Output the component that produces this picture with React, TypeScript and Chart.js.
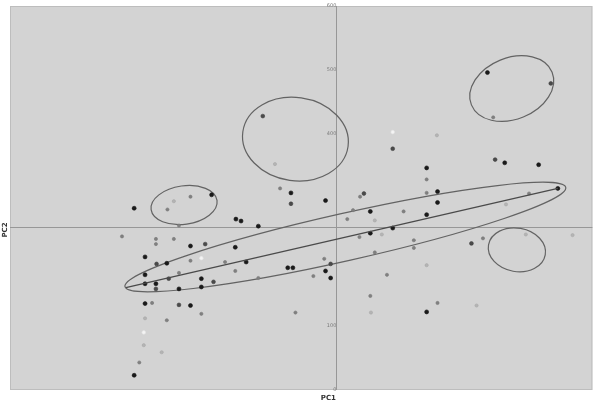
import React, { useEffect, useRef } from "react";
import { Chart, registerables } from "chart.js";

Chart.register(...registerables);

// ---- data (x in 0..910, y in 0..600) ----
const xTitle = "PC1";
const yTitle = "PC2";
const yTickValues = [0, 100, 400, 500, 600];
const xRef = 510;
const yRef = 254;

const blackX = [315, 439, 194, 361, 353, 388, 282, 352, 211, 245, 369, 434, 442, 211, 211, 228, 264, 299, 299, 211, 282, 194, 746, 651, 773, 826, 493, 668, 668, 856, 563, 651, 598, 493, 501, 651, 563];
const blackY = [305, 308, 284, 264, 267, 256, 225, 223, 208, 198, 200, 191, 191, 180, 166, 166, 158, 174, 161, 135, 132, 23, 496, 347, 355, 352, 296, 310, 293, 315, 279, 274, 253, 186, 175, 122, 245];

const darkX = [395, 439, 553, 598, 758, 845, 229, 305, 248, 318, 228, 264, 721, 501];
const darkY = [428, 291, 307, 377, 360, 479, 197, 228, 174, 169, 158, 133, 229, 197];

const grayX = [282, 422, 246, 264, 228, 228, 256, 282, 336, 352, 388, 264, 222, 299, 245, 202, 446, 755, 651, 651, 547, 536, 527, 615, 546, 631, 631, 570, 491, 474, 589, 739, 563, 668, 811, 175];
const grayY = [302, 315, 282, 257, 236, 228, 236, 202, 200, 186, 175, 183, 136, 119, 109, 43, 121, 426, 329, 308, 302, 281, 267, 279, 239, 234, 222, 215, 205, 178, 180, 237, 147, 136, 307, 240];

const lightX = [414, 256, 667, 211, 209, 237, 570, 581, 651, 806, 879, 775, 564, 729];
const lightY = [353, 295, 398, 112, 70, 59, 265, 243, 195, 243, 242, 290, 121, 132];

const whiteX = [598, 299, 209];
const whiteY = [403, 206, 90];

const fitX = [181, 856];
const fitY = [160, 315];

// ellipses: centre, semi-axes (data units), rotation (deg, counter-clockwise)
const ellCx = [524, 272, 446, 784, 792];
const ellCy = [239, 289, 392, 471, 219];
const ellRx = [353, 52, 83, 68, 45];
const ellRy = [37, 30, 65, 48, 34];
const ellRot = [12.7, 8, -8, 22, -10];

const pts = (xs: number[], ys: number[]) => xs.map((x, i) => ({ x, y: ys[i] }));

const backgroundPlugin = {
  id: "bgPanel",
  beforeDraw(chart: any) {
    const { ctx, chartArea: a } = chart;
    ctx.save();
    ctx.fillStyle = "#d3d3d3";
    ctx.fillRect(a.left, a.top, a.right - a.left, a.bottom - a.top);
    ctx.strokeStyle = "#bdbdbd";
    ctx.lineWidth = 1;
    ctx.strokeRect(a.left + 0.5, a.top + 0.5, a.right - a.left - 1, a.bottom - a.top - 1);
    ctx.restore();
  },
  beforeDatasetsDraw(chart: any) {
    const { ctx, chartArea: a, scales } = chart;
    const xs = scales.x;
    const ys = scales.y;
    ctx.save();
    ctx.strokeStyle = "#979797";
    ctx.lineWidth = 1;
    const px = Math.round(xs.getPixelForValue(xRef)) + 0.5;
    const py = Math.round(ys.getPixelForValue(yRef)) + 0.5;
    ctx.beginPath();
    ctx.moveTo(px, a.top);
    ctx.lineTo(px, a.bottom);
    ctx.moveTo(a.left, py);
    ctx.lineTo(a.right, py);
    ctx.stroke();
    // ellipses
    ctx.strokeStyle = "#636363";
    ctx.lineWidth = 1.2;
    for (let i = 0; i < ellCx.length; i++) {
      const cx = xs.getPixelForValue(ellCx[i]);
      const cy = ys.getPixelForValue(ellCy[i]);
      const rx = Math.abs(xs.getPixelForValue(ellCx[i] + ellRx[i]) - cx);
      const ry = Math.abs(ys.getPixelForValue(ellCy[i] + ellRy[i]) - cy);
      ctx.beginPath();
      ctx.ellipse(cx, cy, rx, ry, (-ellRot[i] * Math.PI) / 180, 0, Math.PI * 2);
      ctx.stroke();
    }
    ctx.restore();
  },
  afterDraw(chart: any) {
    const { ctx, chartArea: a, scales } = chart;
    ctx.save();
    ctx.fillStyle = "#333";
    ctx.font = "bold 7px 'DejaVu Sans'";
    ctx.textAlign = "center";
    ctx.textBaseline = "middle";
    ctx.fillText(xTitle, scales.x.getPixelForValue(xRef) - 8, a.bottom + 8);
    ctx.translate(5, 230);
    ctx.rotate(-Math.PI / 2);
    ctx.fillText(yTitle, 0, 0);
    ctx.restore();
  },
};

export default function App() {
  const ref = useRef<HTMLCanvasElement | null>(null);
  useEffect(() => {
    if (!ref.current) return;
    const mk = (label: string, xs: number[], ys: number[], color: string, border: string, r: number) => ({
      label,
      data: pts(xs, ys),
      backgroundColor: color,
      borderColor: border,
      borderWidth: 0.6,
      pointRadius: r,
      showLine: false,
    });
    const chart = new Chart(ref.current, {
      type: "scatter",
      data: {
        datasets: [
          {
            type: "line",
            label: "fit",
            data: pts(fitX, fitY),
            borderColor: "#4a4a4a",
            borderWidth: 1.3,
            pointRadius: 0,
            fill: false,
          } as any,
          mk("light", lightX, lightY, "#b4b4b4", "#a8a8a8", 1.6),
          mk("white", whiteX, whiteY, "#f4f4f4", "#e6e6e6", 1.8),
          mk("gray", grayX, grayY, "#808080", "#787878", 1.6),
          mk("dark", darkX, darkY, "#4a4a4a", "#404040", 1.9),
          mk("black", blackX, blackY, "#1a1a1a", "#141414", 2.0),
        ],
      },
      options: {
        animation: false,
        responsive: false,
        layout: { padding: { left: 10, top: 3, right: 0, bottom: 19 } },
        plugins: { legend: { display: false }, tooltip: { enabled: false } },
        scales: {
          x: { type: "linear", min: 0, max: 910, display: false },
          y: {
            type: "linear",
            min: 0,
            max: 600,
            position: { x: xRef } as any,
            afterBuildTicks: (axis: any) => {
              axis.ticks = yTickValues.map((v) => ({ value: v }));
            },
            ticks: { color: "#7a7a7a", font: { size: 5, family: "DejaVu Sans" }, padding: 3 },
            grid: { display: false },
            border: { display: false },
          },
        },
      },
      plugins: [backgroundPlugin],
    });
    return () => chart.destroy();
  }, []);
  return (
    <div style={{ position: "fixed", left: 0, top: 0, width: 597, height: 409, background: "#fff" }}>
      <canvas ref={ref} width={597} height={409} style={{ display: "block" }} />
    </div>
  );
}
